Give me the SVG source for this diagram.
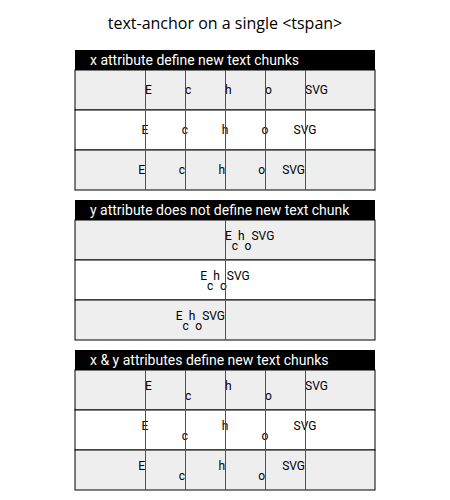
<svg xmlns="http://www.w3.org/2000/svg" width="450" height="500" viewBox="0 0 450 500">
<style>
.title{font-family:"Open Sans","Noto Sans",sans-serif;font-size:16px;fill:#000;text-anchor:middle}
.hdr{fill:#000}
.htxt{font-family:Roboto,"Liberation Sans",sans-serif;font-size:14px;fill:#fff}
.odd{fill:#eee;stroke:#000;stroke-width:1}
.even{fill:#fff;stroke:#000;stroke-width:1}
.t{font-family:Roboto,"Liberation Sans",sans-serif;font-size:12px;fill:#000}
.guide{stroke:#d2143a;stroke-width:1;fill:none}
</style>
<rect width="450" height="500" fill="#fff"/>
<text class="title" x="225" y="29">text-anchor on a single &lt;tspan&gt;</text>

<g id="section1">
  <rect class="hdr" x="75" y="50" width="300" height="20"/>
  <text class="htxt" x="90" y="64.5">x attribute define new text chunks</text>
  <g id="s1-row1">
    <rect class="odd" x="75" y="70" width="300" height="40"/>
    <text class="t" y="94" text-anchor="start"><tspan x="145">E</tspan><tspan x="185">c</tspan><tspan x="225">h</tspan><tspan x="265">o</tspan><tspan x="305">SVG</tspan></text>
  </g>
  <g id="s1-row2">
    <rect class="even" x="75" y="110" width="300" height="40"/>
    <text class="t" y="134" text-anchor="middle"><tspan x="145">E</tspan><tspan x="185">c</tspan><tspan x="225">h</tspan><tspan x="265">o</tspan><tspan x="305">SVG</tspan></text>
  </g>
  <g id="s1-row3">
    <rect class="odd" x="75" y="150" width="300" height="40"/>
    <text class="t" y="174" text-anchor="end"><tspan x="145">E</tspan><tspan x="185">c</tspan><tspan x="225">h</tspan><tspan x="265">o</tspan><tspan x="305">SVG</tspan></text>
  </g>
</g>

<g id="section2">
  <rect class="hdr" x="75" y="200" width="300" height="20"/>
  <text class="htxt" x="90" y="214.5">y attribute does not define new text chunk</text>
  <g id="s2-row1">
    <rect class="odd" x="75" y="220" width="300" height="40"/>
    <text class="t" x="225" y="240" text-anchor="start">E<tspan dy="9.5">c</tspan><tspan dy="-9.5">h</tspan><tspan dy="9.5">o</tspan><tspan dy="-9.5">SVG</tspan></text>
  </g>
  <g id="s2-row2">
    <rect class="even" x="75" y="260" width="300" height="40"/>
    <text class="t" x="225" y="280" text-anchor="middle">E<tspan dy="9.5">c</tspan><tspan dy="-9.5">h</tspan><tspan dy="9.5">o</tspan><tspan dy="-9.5">SVG</tspan></text>
  </g>
  <g id="s2-row3">
    <rect class="odd" x="75" y="300" width="300" height="40"/>
    <text class="t" x="225" y="320" text-anchor="end">E<tspan dy="9.5">c</tspan><tspan dy="-9.5">h</tspan><tspan dy="9.5">o</tspan><tspan dy="-9.5">SVG</tspan></text>
  </g>
</g>

<g id="section3">
  <rect class="hdr" x="75" y="350" width="300" height="20"/>
  <text class="htxt" x="90" y="364.5">x &amp; y attributes define new text chunks</text>
  <g id="s3-row1">
    <rect class="odd" x="75" y="370" width="300" height="40"/>
    <text class="t" text-anchor="start"><tspan x="145" y="390">E</tspan><tspan x="185" y="400">c</tspan><tspan x="225" y="390">h</tspan><tspan x="265" y="400">o</tspan><tspan x="305" y="390">SVG</tspan></text>
  </g>
  <g id="s3-row2">
    <rect class="even" x="75" y="410" width="300" height="40"/>
    <text class="t" text-anchor="middle"><tspan x="145" y="430">E</tspan><tspan x="185" y="440">c</tspan><tspan x="225" y="430">h</tspan><tspan x="265" y="440">o</tspan><tspan x="305" y="430">SVG</tspan></text>
  </g>
  <g id="s3-row3">
    <rect class="odd" x="75" y="450" width="300" height="40"/>
    <text class="t" text-anchor="end"><tspan x="145" y="470">E</tspan><tspan x="185" y="480">c</tspan><tspan x="225" y="470">h</tspan><tspan x="265" y="480">o</tspan><tspan x="305" y="470">SVG</tspan></text>
  </g>
</g>

<g id="connectors">
  <path class="guide" d="M145.5,70V190M185.5,70V190M225.5,70V190M265.5,70V190M305.5,70V190"/>
  <path class="guide" d="M225.5,220V340"/>
  <path class="guide" d="M145.5,370V490M185.5,370V490M225.5,370V490M265.5,370V490M305.5,370V490"/>
</g>
</svg>
